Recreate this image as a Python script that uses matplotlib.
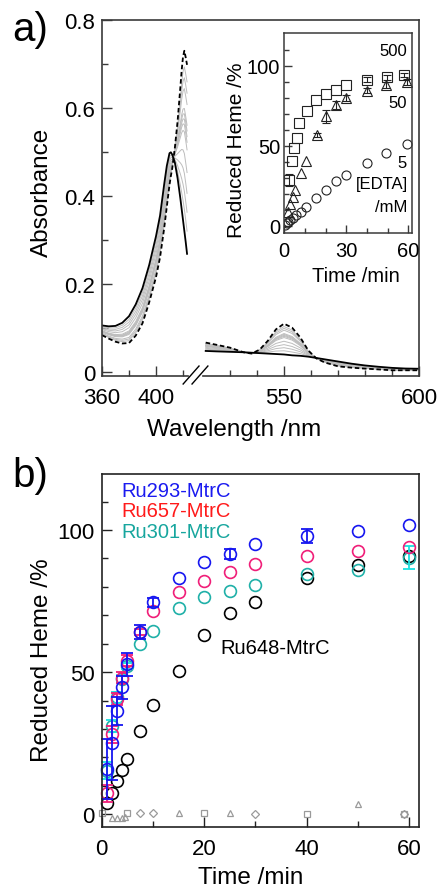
import numpy as np
import matplotlib
matplotlib.use("Agg")
import matplotlib.pyplot as plt
from matplotlib.lines import Line2D

plt.rcParams['font.family'] = ['Liberation Sans', 'DejaVu Sans']

# ---------------- panel a: spectra ----------------
wl_left = [360, 365, 370, 375, 380, 385, 390, 395, 400, 403, 406, 408, 410, 411,
           412, 414, 416, 418, 419, 420, 421, 422, 423]
abs_ox_left = [0.105, 0.103, 0.104, 0.111, 0.126, 0.153, 0.190, 0.243, 0.308, 0.355,
               0.425, 0.468, 0.497, 0.499, 0.494, 0.475, 0.440, 0.395, 0.370, 0.345,
               0.320, 0.295, 0.268]
abs_red_left = [0.083, 0.075, 0.068, 0.064, 0.065, 0.082, 0.110, 0.158, 0.215, 0.260,
                0.325, 0.375, 0.425, 0.445, 0.462, 0.510, 0.570, 0.645, 0.685, 0.716,
                0.730, 0.715, 0.698]
wl_right = [521, 525, 530, 535, 538, 541, 544, 547, 550, 553, 556, 559, 562, 565,
            570, 575, 580, 585, 590, 595, 600]
abs_ox_right = [0.047, 0.046, 0.045, 0.044, 0.043, 0.042, 0.041, 0.040, 0.039, 0.037,
                0.036, 0.034, 0.031, 0.028, 0.023, 0.018, 0.014, 0.011, 0.0085, 0.007,
                0.0065]
abs_red_right = [0.066, 0.061, 0.0545, 0.044, 0.041, 0.050, 0.070, 0.096, 0.109, 0.100,
                 0.078, 0.048, 0.030, 0.021, 0.012, 0.009, 0.0068, 0.005, 0.003, 0.003,
                 0.003]
# reduced fraction of each intermediate (grey) spectrum, read from peak heights
grey_fractions = [0.12, 0.22, 0.32, 0.43, 0.55, 0.59, 0.62, 0.65, 0.68, 0.79, 0.85, 0.91]

# ---------------- panel a inset ----------------
t_edta500 = [2.4, 3.6, 4.7, 6.0, 7.1, 10.8, 15.3, 20.2, 25.0, 29.9, 39.9, 49.8, 57.9]
v_edta500 = [28.7, 40.4, 48.7, 54.8, 64.2, 71.7, 79.0, 82.5, 85.2, 88.0, 91.3, 93.0, 94.4]
e_edta500 = [3.5, 0, 0, 0, 0, 0, 0, 0, 0, 0, 1.5, 1.5, 1.5]
t_edta50 = [1.9, 2.8, 4.1, 5.2, 7.9, 10.5, 15.7, 20.2, 25.0, 29.9, 39.9, 49.2, 59.2]
v_edta50 = [8.5, 13.7, 17.9, 22.7, 33.0, 40.8, 56.9, 68.5, 75.6, 79.8, 84.6, 88.1, 89.8]
e_edta50 = [0, 0, 0, 0, 0, 0, 1.5, 4.0, 2.6, 2.0, 1.8, 2.0, 2.0]
t_edta5 = [0.5, 1.2, 1.9, 2.8, 4.1, 5.7, 7.9, 10.5, 15.3, 20.2, 25.0, 29.9, 39.9, 49.2, 59.2]
v_edta5 = [0.8, 1.9, 2.7, 3.8, 4.8, 6.9, 8.9, 11.7, 17.3, 22.7, 28.3, 31.9, 39.4, 45.6, 51.3]
inset_labels = ["500", "50", "5"]

# ---------------- panel b ----------------
t_b = [1, 2, 3, 4, 5, 7.5, 10, 15, 20, 25, 30, 40, 50, 60]
ru293 = [15.8, 25.0, 36.4, 44.6, 52.8, 64.2, 74.5, 83.0, 88.8, 91.5, 95.1, 97.9, 99.5, 101.6]
ru293_err = [10.5, 13, 5, 4, 4, 2.5, 1.5, 0, 0, 1.8, 0, 2.5, 0, 0]
ru657 = [7.4, 28.2, 40.5, 48.1, 54.0, 64.0, 71.6, 78.3, 81.9, 85.1, 88.0, 90.7, 92.5, 93.9]
ru657_err = [3, 3, 2, 2, 2, 1, 0, 0, 0, 0, 0, 0, 0, 0]
ru301 = [15.3, 31.1, 41.1, 47.5, 52.2, 59.9, 64.5, 72.5, 76.4, 78.4, 80.7, 84.6, 85.8, 90.2]
ru301_err = [3, 2, 2, 1.5, 1, 0, 0, 0, 0, 0, 0, 0, 0, 4]
ru648 = [3.8, 7.4, 11.6, 15.4, 19.5, 29.3, 38.4, 50.5, 63.0, 70.8, 74.5, 83.0, 87.8, 91.0]
ctrl_sq_t = [0, 5, 20, 40, 59]
ctrl_sq_v = [0.5, 0.6, 0.6, 0.0, 0.2]
ctrl_di_t = [7.5, 10, 30, 59]
ctrl_di_v = [0.6, 0.6, 0.0, 0.2]
ctrl_tr_t = [2, 3, 4, 4.5, 15, 25, 50]
ctrl_tr_v = [-1.5, -1.5, -1.5, -1.0, 0.6, 0.6, 3.5]
series_names = ["Ru293-MtrC", "Ru657-MtrC", "Ru301-MtrC", "Ru648-MtrC"]

W, H = 440, 895
fig = plt.figure(figsize=(W / 100, H / 100), dpi=100)


def px_axes(l, t, r, b):
    return fig.add_axes([l / W, 1 - b / H, (r - l) / W, (b - t) / H])


def ftext(x, y, s, **kw):
    fig.text(x / W, 1 - y / H, s, **kw)


def nz(err):
    e = np.asarray(err, dtype=float)
    return np.where(e > 0, e, np.nan)


SP = '#3a3a3a'
TICK = 16

# ---------- panel a main ----------
axA = px_axes(102, 21, 419, 377)
BX = np.array([300, 360, 428, 518, 600, 700])
BU = np.array([-81, 0, 91.8, 95.6, 317, 587])
axA.set_xscale('function', functions=(lambda x: np.interp(x, BX, BU),
                                      lambda u: np.interp(u, BU, BX)))
axA.set_xlim(360, 600)
axA.set_ylim(-0.01, 0.8)

oxL, rdL = np.array(abs_ox_left), np.array(abs_red_left)
oxR, rdR = np.array(abs_ox_right), np.array(abs_red_right)
for f in grey_fractions:
    axA.plot(wl_left, oxL + f * (rdL - oxL), color='#bdbdbd', lw=0.7)
    axA.plot(wl_right, oxR + f * (rdR - oxR), color='#bdbdbd', lw=0.7)
axA.plot(wl_left, abs_ox_left, color='black', lw=1.3)
axA.plot(wl_right, abs_ox_right, color='black', lw=1.3)
axA.plot(wl_left, abs_red_left, color='black', lw=1.3, ls=(0, (2.5, 1.5)))
axA.plot(wl_right, abs_red_right, color='black', lw=1.3, ls=(0, (2.5, 1.5)))

axA.set_xticks([360, 400, 550, 600])
axA.set_xticklabels(['360', '400', '550', '600'])
axA.set_xticks([380, 420, 530, 540, 560, 570, 580, 590], minor=True)
axA.set_yticks([0, 0.2, 0.4, 0.6, 0.8])
axA.set_yticklabels(['0', '0.2', '0.4', '0.6', '0.8'])
axA.set_yticks([0.1, 0.3, 0.5, 0.7], minor=True)
axA.tick_params(which='both', direction='in', labelsize=TICK, color=SP)
axA.tick_params(which='major', length=7, width=1)
axA.tick_params(which='minor', length=4, width=1)
axA.tick_params(axis='x', pad=8)
axA.tick_params(axis='y', pad=5)
for s in ['top', 'left', 'right']:
    axA.spines[s].set_color(SP)
    axA.spines[s].set_linewidth(1.2)
axA.spines['bottom'].set_visible(False)
for x0, x1 in [(0, 0.272), (0.318, 1)]:
    axA.add_line(Line2D([x0, x1], [0, 0], transform=axA.transAxes, color=SP,
                        lw=1.2, clip_on=False))
for x0, x1 in [(0.256, 0.306), (0.284, 0.334)]:
    axA.add_line(Line2D([x0, x1], [-0.0225, 0.028], transform=axA.transAxes,
                        color='black', lw=1.0, clip_on=False))

ftext(42, 192, 'Absorbance', fontsize=17.5, rotation=90, ha='center', va='center')
ftext(234, 430, 'Wavelength /nm', fontsize=17.5, ha='center', va='center')
ftext(30, 30, 'a)', fontsize=29, ha='center', va='center')

# ---------- inset ----------
axI = px_axes(284.3, 34, 411.7, 234)
axI.set_xlim(0, 61.6)
axI.set_ylim(-4.4, 120.6)
mk = dict(mfc='none', mec='#222222', mew=0.8, ls='none')
ek = dict(fmt='none', ecolor='#222222', elinewidth=0.8, capsize=3, capthick=0.8)
axI.plot(t_edta5, v_edta5, marker='o', ms=6.5, **mk)
axI.plot(t_edta50, v_edta50, marker='^', ms=6.8, **mk)
axI.errorbar(t_edta50, v_edta50, yerr=nz(e_edta50), **ek)
axI.plot(t_edta500, v_edta500, marker='s', ms=7.2, **mk)
axI.errorbar(t_edta500, v_edta500, yerr=nz(e_edta500), **ek)
axI.set_xticks([0, 30, 60])
axI.set_xticks([10, 20, 40, 50], minor=True)
axI.set_yticks([0, 50, 100])
axI.set_yticks([10, 20, 30, 40, 60, 70, 80, 90, 110], minor=True)
axI.tick_params(which='both', direction='in', labelsize=14.5, color=SP)
axI.tick_params(which='major', length=6, width=1)
axI.tick_params(which='minor', length=3.5, width=1)
axI.tick_params(axis='x', pad=6)
axI.tick_params(axis='y', pad=3)
for s in axI.spines.values():
    s.set_color(SP)
    s.set_linewidth(1.1)
ftext(236, 150, 'Reduced Heme /%', fontsize=15, rotation=90, ha='center', va='center')
ftext(356, 277, 'Time /min', fontsize=14.5, ha='center', va='center')
for lab, yy in zip(inset_labels, [52, 103, 163]):
    ftext(407, yy, lab, fontsize=12, ha='right', va='center')
ftext(408, 184, '[EDTA]', fontsize=12, ha='right', va='center')
ftext(407, 207, '/mM', fontsize=12, ha='right', va='center')

# ---------- panel b ----------
axB = px_axes(101.7, 475, 419.3, 828.3)
axB.set_xlim(0, 62)
axB.set_ylim(-4.6, 119.7)
GR = '#9a9a9a'
cmk = dict(mfc='none', mec=GR, mew=0.9, ls='none', ms=5, clip_on=False)
axB.plot(ctrl_sq_t, ctrl_sq_v, marker='s', **cmk)
axB.plot(ctrl_di_t, ctrl_di_v, marker='D', **{**cmk, 'ms': 4.5})
axB.plot(ctrl_tr_t, ctrl_tr_v, marker='^', **cmk)

BLUE, PINK, TEAL, CYAN = '#1616f0', '#f01e78', '#1fb0a8', '#19e0e0'
mkb = dict(marker='o', ms=8.5, mfc='none', mew=1.2, ls='none', clip_on=False)
ekb = dict(fmt='none', elinewidth=1.3, capsize=4, capthick=1.3, clip_on=False)
axB.plot(t_b, ru648, mec='black', **mkb)
axB.plot(t_b, ru301, mec=TEAL, **mkb)
axB.errorbar(t_b, ru301, yerr=nz(ru301_err), ecolor=CYAN, **ekb)
axB.plot(t_b, ru657, mec=PINK, **mkb)
axB.errorbar(t_b, ru657, yerr=nz(ru657_err), ecolor=PINK, **ekb)
axB.plot(t_b, ru293, mec=BLUE, **mkb)
axB.errorbar(t_b, ru293, yerr=nz(ru293_err), ecolor=BLUE, **ekb)

axB.set_xticks([0, 20, 40, 60])
axB.set_xticks([10, 30, 50], minor=True)
axB.set_yticks([0, 50, 100])
axB.set_yticks([10, 20, 30, 40, 60, 70, 80, 90, 110], minor=True)
axB.tick_params(which='both', direction='in', labelsize=TICK, color='#222222')
axB.tick_params(which='major', length=7, width=1)
axB.tick_params(which='minor', length=4, width=1)
axB.tick_params(axis='x', pad=8)
axB.tick_params(axis='y', pad=5)
for s in axB.spines.values():
    s.set_color('#222222')
    s.set_linewidth(1.2)

ftext(42, 660, 'Reduced Heme /%', fontsize=17.5, rotation=90, ha='center', va='center')
ftext(251, 878, 'Time /min', fontsize=17.5, ha='center', va='center')
ftext(30, 476, 'b)', fontsize=29, ha='center', va='center')
for name, col, yy in zip(series_names[:3], ['#1a1af0', '#ff1a1a', '#17a69e'],
                         [492, 512, 532]):
    ftext(121, yy, name, fontsize=14.5, color=col, ha='left', va='center')
ftext(220, 649, series_names[3], fontsize=14.5, color='black', ha='left', va='center')

fig.savefig('out.png', dpi=100)
